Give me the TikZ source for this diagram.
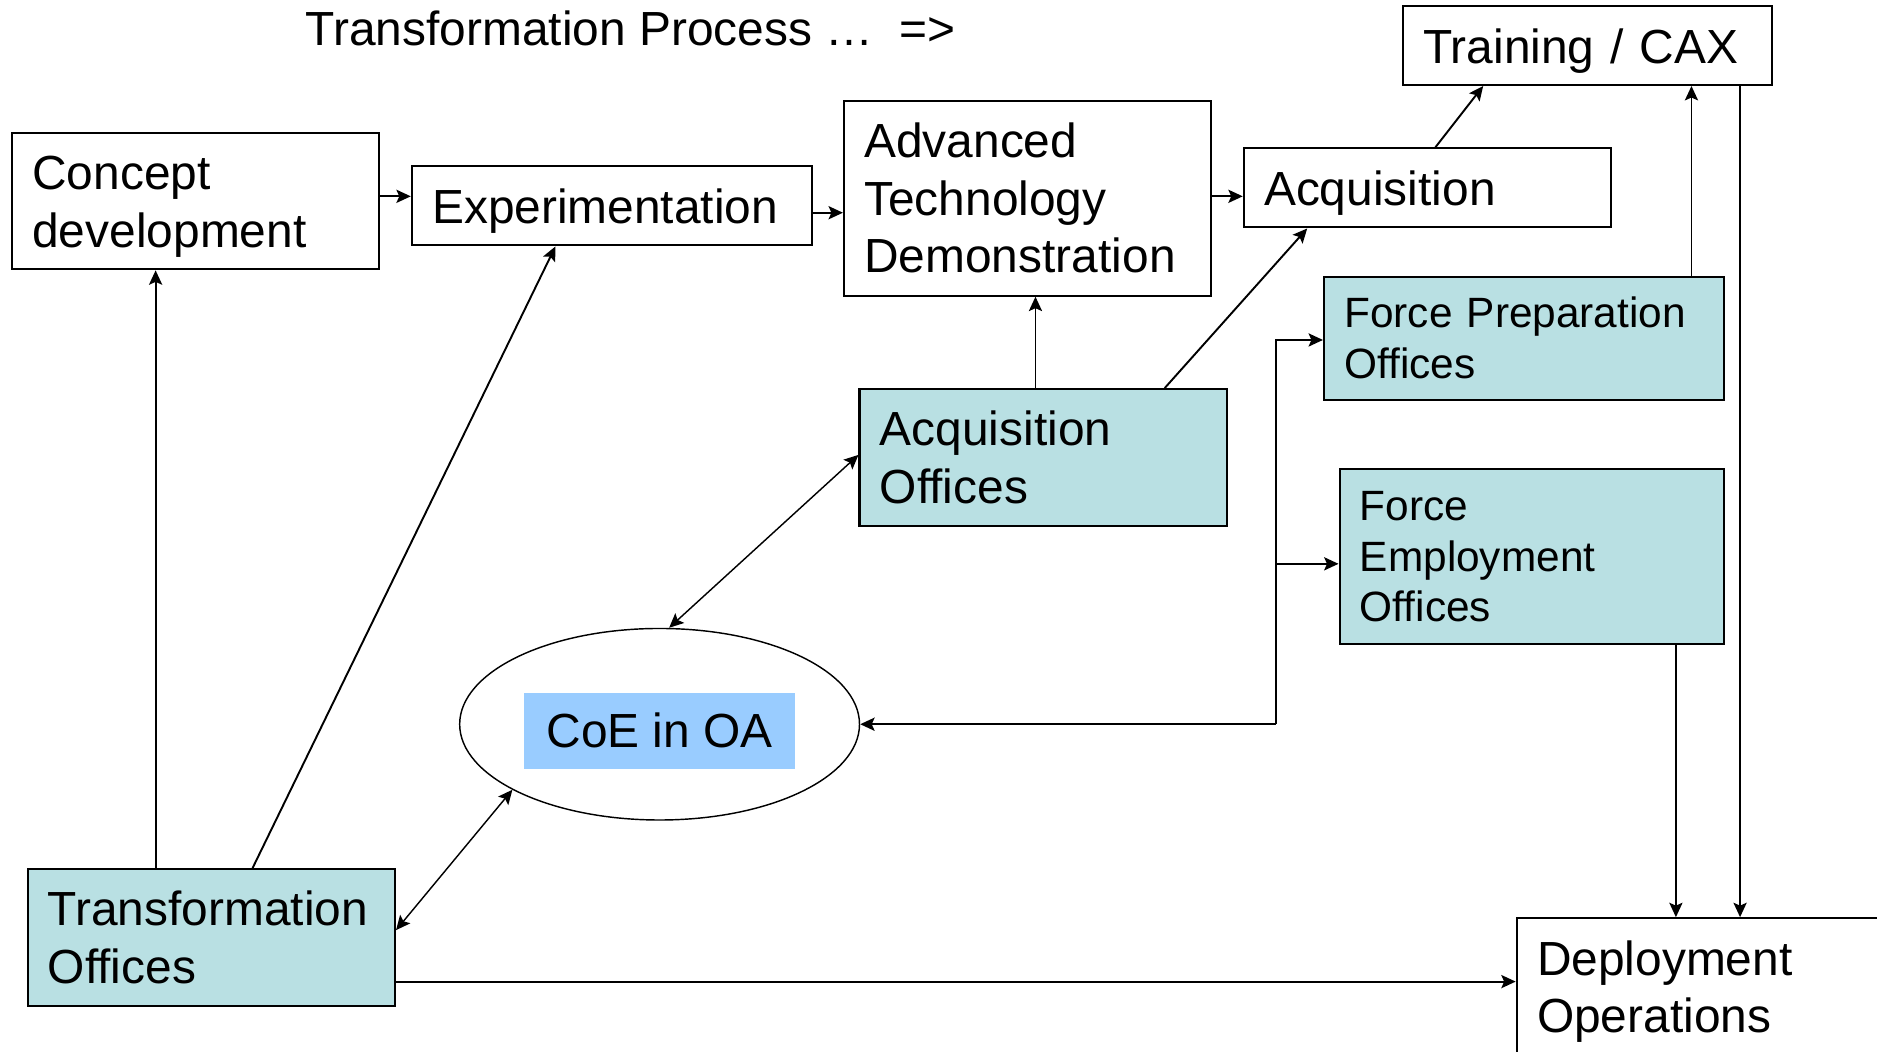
\documentclass[tikz,border=0pt]{standalone}
\usepackage{fontspec}
\setmainfont{Liberation Sans}
\usetikzlibrary{arrows.meta,shapes.geometric}
\definecolor{boxteal}{HTML}{B9E0E3}
\definecolor{coeblue}{HTML}{99CCFF}
\newcommand{\myup}{\rule{0pt}{18.8pt}}
\begin{document}
\begin{tikzpicture}[x=0.5pt,y=-0.5pt,
  box/.style={draw,line width=0.85pt,inner xsep=8.5pt,inner ysep=0pt,align=left,font=\fontsize{20}{24}\selectfont},
  smallbox/.style={box,font=\fontsize{17.7}{21.25}\selectfont},
  filled/.style={fill=boxteal},
  tip/.tip={Stealth[length=6pt,width=5.5pt,inset=1.2pt]},
  conn/.style={line width=0.8pt,-tip},
  dconn/.style={line width=0.6pt,tip-tip}]
\path[use as bounding box] (0,0) rectangle (1568,878);
\clip (0,0) rectangle (1568,878);

\node[anchor=base west,font=\fontsize{20}{24}\selectfont,inner sep=0pt] (title) at (255,38) {Transformation Process …\ \ =>};

\node[box,text width=136.5pt,minimum height=57pt] (concept) at (163.5,168) {\myup Concept\\development};
\node[box,text width=150pt,minimum height=33pt] (exp) at (511,172) {\myup Experimentation};
\node[box,text width=136.5pt,minimum height=81.5pt] (atd) at (858.5,165.5) {Advanced\\Technology\\Demonstration};
\node[box,text width=136.5pt,minimum height=33pt] (acq) at (1192.5,157) {\myup Acquisition};
\node[box,text width=137pt,minimum height=33pt] (train) at (1326,38) {\myup Training / CAX};
\node[smallbox,filled,text width=150pt,minimum height=51.5pt] (fprep) at (1273,282.5) {Force Preparation\\Offices};
\node[box,filled,text width=136.5pt,minimum height=57pt] (acqoff) at (871.5,382) {Acquisition\\Offices};
\node[smallbox,filled,text width=143.5pt,minimum height=73pt] (femp) at (1279.5,465) {Force\\Employment\\Offices};
\node[box,filled,text width=136.5pt,minimum height=57pt] (trans) at (176.5,783) {Transformation\\Offices};
\node[box,text width=136.5pt,minimum height=57pt] (deploy) at (1420.5,824) {\myup Deployment\\Operations};
\node[draw,ellipse,line width=0.6pt,minimum width=167pt,minimum height=80pt,inner sep=0pt] (coe) at (551,605) {};
\node[fill=coeblue,minimum width=113pt,minimum height=31.5pt,inner sep=0pt,font=\fontsize{20}{24}\selectfont] (coelabel) at (551,610.5) {CoE in OA};

% connectors
\coordinate (a1) at ([yshift=2pt]concept.east);
\draw[conn] (a1) -- (a1 -| exp.west);
\coordinate (a2) at ([yshift=-2.85pt]exp.east);
\draw[conn] (a2) -- (a2 -| atd.west);
\coordinate (a3) at ([yshift=0.75pt]atd.east);
\draw[conn] (a3) -- (a3 -| acq.west);
\draw[conn] ([xshift=3.25pt]acq.north) -- ([xshift=-43.5pt]train.south);
\coordinate (a5) at ([xshift=70pt]fprep.north);
\draw[conn] (a5) -- (a5 |- train.south);
\coordinate (a6) at ([xshift=63.8pt]train.south);
\draw[conn] (a6) -- (a6 |- deploy.north);
\coordinate (a7) at ([xshift=60.25pt]femp.south);
\draw[conn] (a7) -- (a7 |- deploy.north);
\coordinate (a8) at ([xshift=-3.25pt]acqoff.north);
\draw[conn] (a8) -- (a8 |- atd.south);
\draw[conn] ([xshift=50.75pt]acqoff.north) -- ([xshift=-50.25pt]acq.south);
\coordinate (a10) at ([xshift=-23.25pt]trans.north);
\draw[conn] (a10) -- (a10 |- concept.south);
\draw[conn] ([xshift=17.25pt]trans.north) -- ([xshift=-23.5pt]exp.south);
\draw[dconn] ([yshift=1pt]acqoff.west) -- ([xshift=4pt]coe.north);
\draw[dconn] ([yshift=3pt]trans.east) -- (coe.204);
\coordinate (a14) at ([yshift=-18.5pt]trans.east);
\draw[conn] (a14) -- (a14 -| deploy.west);
\coordinate (bus) at (1066,605);
\draw[conn] (bus) -- (coe.east);
\draw[conn] (bus) |- ([yshift=-0.75pt]fprep.west);
\coordinate (fe) at ([yshift=-3pt]femp.west);
\draw[conn] (bus |- fe) -- (fe);
\end{tikzpicture}
\end{document}
